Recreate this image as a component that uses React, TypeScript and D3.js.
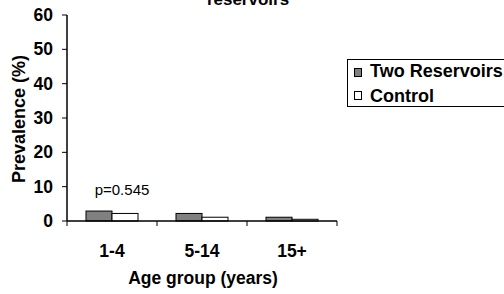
import React from "react";
import * as d3 from "d3";

const categories = ["1-4", "5-14", "15+"];
const seriesNames = ["Two Reservoirs", "Control"];
const twoReservoirs = [2.9, 2.2, 1.1];
const control = [2.2, 1.1, 0.5];
const yTicks = [0, 10, 20, 30, 40, 50, 60];
const colors = ["#808080", "#ffffff"];

export default function App() {
  const W = 504, H = 294;
  const left = 67, right = 337, top = 15, bottom = 221;
  const x = d3.scaleBand<string>().domain(categories).range([left, right]).padding(0);
  const y = d3.scaleLinear().domain([0, 60]).range([bottom, top]);
  const barW = 26;
  const series = [twoReservoirs, control];
  const font = "'Liberation Sans', Arial, sans-serif";
  return (
    <svg width={W} height={H} style={{ position: "absolute", left: 0, top: 0 }} fontFamily={font}>
      <rect width={W} height={H} fill="#fff" />
      <text x={248} y={5} textAnchor="middle" fontWeight="bold" fontSize={17}>reservoirs</text>
      {series.map((vals, si) =>
        vals.map((v, i) => {
          const cx = (x(categories[i]) as number) + x.bandwidth() / 2;
          const x0 = cx - barW + si * barW;
          return (
            <rect key={si + "-" + i} x={x0} y={y(v)} width={barW} height={bottom - y(v)}
              fill={colors[si]} stroke="#000" strokeWidth={1} />
          );
        })
      )}
      <line x1={left} x2={left} y1={top} y2={bottom} stroke="#000" strokeWidth={1.5} />
      <line x1={left} x2={right} y1={bottom} y2={bottom} stroke="#000" strokeWidth={1.5} />
      {yTicks.map((t) => (
        <g key={t}>
          <line x1={left - 5} x2={left} y1={y(t)} y2={y(t)} stroke="#000" strokeWidth={1} />
          <text x={53} y={y(t) + 6} textAnchor="end" fontWeight="bold" fontSize={17.5}>{t}</text>
        </g>
      ))}
      {[...categories.map((c) => x(c) as number), right].map((p, i) => (
        <line key={i} x1={p} x2={p} y1={bottom} y2={bottom + 5} stroke="#000" strokeWidth={1} />
      ))}
      {categories.map((c) => (
        <text key={c} x={(x(c) as number) + x.bandwidth() / 2} y={257} textAnchor="middle" fontWeight="bold" fontSize={17.5}>{c}</text>
      ))}
      <text x={122} y={195} textAnchor="middle" fontSize={15}>p=0.545</text>
      <text x={203} y={284} textAnchor="middle" fontWeight="bold" fontSize={17.5}>Age group (years)</text>
      <text transform={`translate(25,119) rotate(-90)`} textAnchor="middle" fontWeight="bold" fontSize={18}>Prevalence (%)</text>
      <rect x={347.5} y={59.5} width={160} height={47} fill="#fff" stroke="#000" strokeWidth={1} />
      {seriesNames.map((n, i) => (
        <g key={n}>
          <rect x={354.5} y={68.5 + i * 23} width={7} height={8} fill={colors[i]} stroke="#000" strokeWidth={1} />
          <text x={370} y={77 + i * 25} fontWeight="bold" fontSize={18}>{n}</text>
        </g>
      ))}
    </svg>
  );
}
